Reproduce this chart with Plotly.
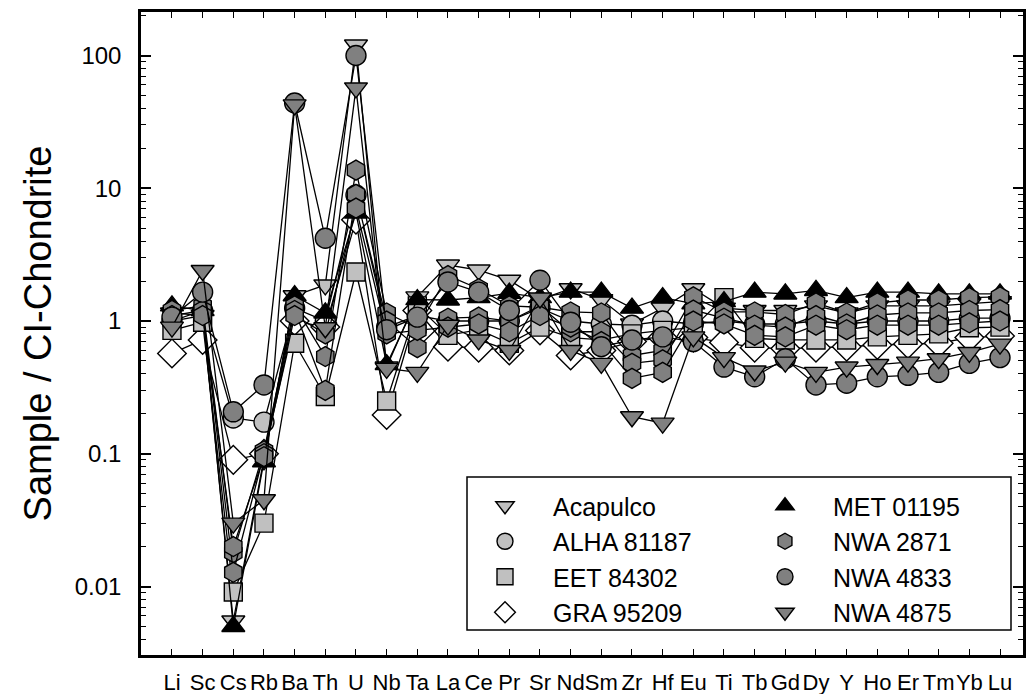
import plotly.graph_objects as go

elements = ["Li", "Sc", "Cs", "Rb", "Ba", "Th", "U", "Nb", "Ta", "La", "Ce", "Pr", "Sr", "Nd",
            "Sm", "Zr", "Hf", "Eu", "Ti", "Tb", "Gd", "Dy", "Y", "Ho", "Er", "Tm", "Yb", "Lu"]

acapulco = [1.15, 1.1, 0.0055, 0.09, 1.55, 1.87, 120, 0.45, 1.52, 2.64, 2.42, 2.03, 1.45, 1.75,
            1.45, 0.95, 1.25, 1.75, 1.25, 1.2, 1.2, 1.3, 1.15, 1.3, 1.3, 1.3, 1.35, 1.4]
alha_81187 = [1.0, 1.2, 0.186, 0.173, 1.25, 1.0, 8.9, 0.9, 1.1, 1.0, 1.0, 1.0, 1.25, 1.0,
              0.95, 0.93, 1.0, 0.95, 1.0, 0.95, 0.95, 1.0, 0.95, 1.0, 1.0, 1.0, 1.05, 1.05]
eet_84302 = [0.85, 0.98, 0.0091, 0.030, 0.68, 0.27, 2.34, 0.25, 1.3, 0.78, 0.86, 0.68, 0.9, 0.75,
             0.72, 0.8, 0.85, 0.89, 1.5, 0.74, 0.72, 0.72, 0.72, 0.76, 0.78, 0.8, 0.89, 0.9]
gra_95209 = [0.57, 0.72, 0.09, 0.1, 1.0, 0.9, 5.8, 0.196, 1.2, 0.64, 0.63, 0.6, 0.85, 0.55,
             0.6, 0.7, 0.75, 0.75, 0.69, 0.63, 0.62, 0.63, 0.64, 0.66, 0.67, 0.68, 0.75, 0.77]
met_01195 = [1.3, 1.2, 0.005, 0.087, 1.55, 1.15, 6.5, 0.47, 1.45, 1.44, 1.5, 1.62, 1.5, 1.65,
             1.65, 1.25, 1.5, 1.35, 1.4, 1.65, 1.6, 1.7, 1.5, 1.65, 1.65, 1.6, 1.6, 1.6]
nwa_2871_a = [1.2, 1.3, 0.018, 0.105, 1.3, 0.54, 13.7, 1.15, 0.89, 2.2, 1.75, 1.3, 1.27, 1.17,
              1.15, 0.55, 0.6, 1.52, 1.17, 1.17, 1.12, 1.37, 1.15, 1.37, 1.44, 1.44, 1.5, 1.52]
nwa_2871_b = [1.1, 1.2, 0.0128, 0.1, 1.2, 0.30, 9.0, 1.0, 0.63, 1.05, 1.07, 1.0, 1.3, 0.83,
              0.83, 0.48, 0.51, 1.21, 1.05, 0.93, 0.9, 1.1, 0.95, 1.11, 1.15, 1.15, 1.2, 1.22]
nwa_2871_c = [1.0, 1.1, 0.02, 0.095, 1.1, 0.8, 7.1, 0.8, 0.85, 0.9, 0.95, 0.83, 1.1, 0.9,
              0.7, 0.37, 0.41, 1.0, 0.95, 0.78, 0.76, 0.93, 0.86, 0.93, 0.93, 0.93, 0.97, 1.0]
nwa_4833 = [1.07, 1.65, 0.207, 0.33, 43.9, 4.2, 100, 0.86, 1.07, 1.97, 1.65, 1.2, 2.03, 0.98,
            0.64, 0.72, 0.76, 0.7, 0.45, 0.38, 0.52, 0.33, 0.34, 0.38, 0.39, 0.41, 0.48, 0.53]
nwa_4875 = [0.9, 2.4, 0.030, 0.045, 42.5, 0.89, 57, 0.44, 0.41, 0.93, 0.72, 0.6, 1.49, 0.6,
            0.48, 0.19, 0.17, 0.76, 0.53, 0.42, 0.49, 0.41, 0.45, 0.47, 0.49, 0.52, 0.58, 0.67]

LIGHT = "#c0c0c0"
DARK = "#808080"
FONT = "Arial, Liberation Sans, sans-serif"

# drawing order (later on top); legendrank keeps the legend order
series = [
    ("Acapulco", acapulco, "triangle-down", LIGHT, True, "legend", 1),
    ("ALHA 81187", alha_81187, "circle", LIGHT, True, "legend", 2),
    ("GRA 95209", gra_95209, "diamond", "white", True, "legend", 4),
    ("EET 84302", eet_84302, "square", LIGHT, True, "legend", 3),
    ("MET 01195", met_01195, "triangle-up", "black", True, "legend2", 5),
    ("NWA 2871", nwa_2871_a, "hexagon", DARK, True, "legend2", 6),
    ("NWA 2871 b", nwa_2871_b, "hexagon", DARK, False, "legend2", 7),
    ("NWA 2871 c", nwa_2871_c, "hexagon", DARK, False, "legend2", 8),
    ("NWA 4833", nwa_4833, "circle", DARK, True, "legend2", 9),
    ("NWA 4875", nwa_4875, "triangle-down", DARK, True, "legend2", 10),
]

sizes = {"triangle-down": 20, "triangle-up": 20, "circle": 20, "square": 18,
         "diamond": 22, "hexagon": 20}

fig = go.Figure()
for name, vals, sym, col, show, leg, rank in series:
    fig.add_trace(go.Scatter(
        x=elements, y=vals, mode="lines", line=dict(color="black", width=1.3),
        showlegend=False, hoverinfo="skip",
    ))
    fig.add_trace(go.Scatter(
        x=elements, y=vals, name=name, mode="markers",
        marker=dict(symbol=sym, size=sizes[sym], color=col,
                    line=dict(color="black", width=1.4)),
        showlegend=show, legend=leg, legendgroup=name, legendrank=rank,
    ))

W, H = 1033, 694
L, R, T, B = 141, 1023, 12, 655
pw, ph = R - L, B - T

def px(x):
    return (x - L) / pw

def py(y):
    return (B - y) / ph

minor_vals = [m * 10.0 ** e for e in range(-3, 3) for m in range(2, 10)]

legend_style = dict(xanchor="left", yanchor="top", bgcolor="rgba(0,0,0,0)", borderwidth=0,
                    itemwidth=86, font=dict(size=25, family=FONT), tracegroupgap=3,
                    traceorder="normal")

fig.update_layout(
    width=W, height=H,
    margin=dict(l=L, r=W - R, t=T, b=H - B),
    paper_bgcolor="white", plot_bgcolor="white",
    font=dict(family=FONT, color="black"),
    xaxis=dict(
        type="category", categoryorder="array", categoryarray=elements,
        range=[-1.01, 27.75], showgrid=False, zeroline=False, automargin=False,
        showline=True, linecolor="black", linewidth=2.5, mirror="allticks",
        ticks="inside", ticklen=6, tickwidth=1.3, tickcolor="black",
        tickmode="linear", tick0=0, dtick=1, tickangle=0,
        tickfont=dict(size=22, family=FONT), ticklabelstandoff=6,
    ),
    yaxis=dict(
        type="log", range=[-2.516, 2.328], showgrid=False, zeroline=False, automargin=False,
        showline=True, linecolor="black", linewidth=2.5, mirror="allticks",
        tickmode="array", tickvals=[0.01, 0.1, 1, 10, 100],
        ticktext=["0.01", "0.1", "1", "10", "100"],
        ticks="inside", ticklen=10, tickwidth=1.5, tickcolor="black",
        tickfont=dict(size=24, family=FONT), ticklabelstandoff=12,
        minor=dict(ticks="inside", ticklen=5, tickwidth=1.3, tickcolor="black",
                   tickmode="array", tickvals=minor_vals, showgrid=False),
        title=dict(text="Sample / CI-Chondrite", font=dict(size=38, family=FONT), standoff=12),
    ),
    legend=dict(x=px(457), y=py(483), **legend_style),
    legend2=dict(x=px(737), y=py(483), **legend_style),
    shapes=[dict(type="rect", xref="paper", yref="paper",
                 x0=px(467), x1=px(1011), y0=py(630), y1=py(477),
                 line=dict(color="black", width=1.5), fillcolor="white", layer="above")],
)

fig.write_html("out.html")
